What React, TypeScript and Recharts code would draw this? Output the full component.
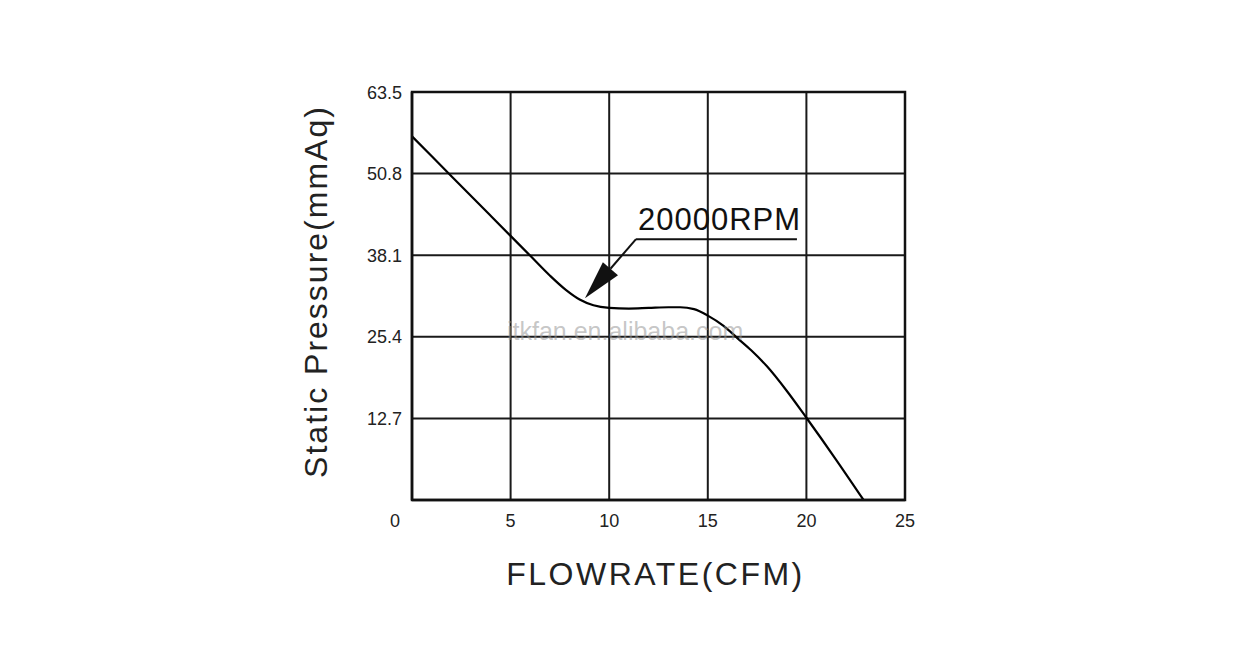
import React from 'react';
import { LineChart, Line, XAxis, YAxis, CartesianGrid, ReferenceLine, ReferenceArea } from 'recharts';

// flow (CFM) vs static pressure (mmAq)
const flowrate = [0, 2, 4, 6, 7, 7.8, 8.5, 9.2, 10, 11, 12, 13, 13.6, 14.3, 15, 15.8, 16.5, 17.2, 18, 19, 20, 21.5, 22.9];
const pressure = [56.6, 50.4, 44.2, 38.0, 34.9, 32.7, 31.2, 30.3, 29.9, 29.8, 29.9, 30.0, 30.0, 29.7, 28.7, 27.1, 25.2, 23.3, 20.8, 17.0, 12.8, 6.3, 0];

const xTicks = [0, 5, 10, 15, 20, 25];
const yTicks = [0, 12.7, 25.4, 38.1, 50.8, 63.5];

const curveLabel = '20000RPM';
const xTitle = 'FLOWRATE(CFM)';
const yTitle = 'Static Pressure(mmAq)';

// annotation anchors in data units
const labelStart = { x: 11.36, y: 40.6 };
const labelEnd = { x: 19.52, y: 40.6 };
const arrowTip = { x: 8.77, y: 31.4 };

const data = flowrate.map((f, i) => ({ flow: f, pressure: pressure[i] }));

const FONT = '"Liberation Sans", Arial, Helvetica, sans-serif';
const INK = '#111';

const XTick = (props: any) => {
  const { x, y, payload } = props;
  const dx = payload.value === 0 ? -17 : 0;
  return (
    <text x={x + dx} y={y + 19} textAnchor="middle" fontSize={18} fontFamily={FONT} fill="#222">
      {payload.value}
    </text>
  );
};

const YTick = (props: any) => {
  const { x, y, payload } = props;
  if (payload.value === 0) return null;
  return (
    <text x={x - 2} y={y + 6.5} textAnchor="end" fontSize={18} fontFamily={FONT} fill="#222">
      {payload.value.toFixed(1)}
    </text>
  );
};

const Underline = (p: any) => (
  <g>
    <line x1={p.x1} y1={p.y1} x2={p.x2} y2={p.y2} stroke={INK} strokeWidth={2} />
    <text x={p.x1 + 2} y={p.y1 - 9} fontSize={31} fontFamily={FONT} fill={INK} letterSpacing={1}>
      {curveLabel}
    </text>
  </g>
);

const Arrow = (p: any) => {
  // x1,y1 = start of leader, x2,y2 = tip
  const dx = p.x2 - p.x1;
  const dy = p.y2 - p.y1;
  const len = Math.sqrt(dx * dx + dy * dy) || 1;
  const ux = dx / len;
  const uy = dy / len;
  const headLen = 39;
  const half = 10;
  const bx = p.x2 - ux * headLen;
  const by = p.y2 - uy * headLen;
  const pts = `${p.x2},${p.y2} ${bx - uy * half},${by + ux * half} ${bx + uy * half},${by - ux * half}`;
  return (
    <g>
      <line x1={p.x1} y1={p.y1} x2={bx} y2={by} stroke={INK} strokeWidth={2} />
      <polygon points={pts} fill={INK} />
    </g>
  );
};

export default function App() {
  return (
    <div style={{ position: 'absolute', left: 0, top: 0, width: 1250, height: 660, background: '#fff' }}>
      <LineChart width={1250} height={660} data={data} margin={{ top: 92, right: 345, bottom: 100, left: 352 }}>
        <CartesianGrid stroke="#1a1a1a" strokeWidth={2} />
        <XAxis
          dataKey="flow"
          type="number"
          domain={[0, 25]}
          ticks={xTicks}
          tick={<XTick />}
          tickLine={false}
          axisLine={{ stroke: INK, strokeWidth: 2.5 }}
          height={60}
          allowDataOverflow
          label={{
            content: (props: any) => {
              const vb = props.viewBox;
              return (
                <text x={vb.x + vb.width / 2 - 3} y={585} textAnchor="middle" fontSize={32} fontFamily={FONT} fill="#222" letterSpacing={2.5}>
                  {xTitle}
                </text>
              );
            },
          }}
        />
        <YAxis
          type="number"
          domain={[0, 63.5]}
          ticks={yTicks}
          tick={<YTick />}
          tickLine={false}
          axisLine={{ stroke: INK, strokeWidth: 2.5 }}
          width={60}
          allowDataOverflow
          label={{
            content: (props: any) => {
              const vb = props.viewBox;
              const cy = vb.y + vb.height / 2 - 4.5;
              return (
                <text x={327} y={cy} transform={`rotate(-90, 327, ${cy})`} textAnchor="middle" fontSize={32} fontFamily={FONT} fill="#222" letterSpacing={2}>
                  {yTitle}
                </text>
              );
            },
          }}
        />
        <ReferenceArea x1={0} x2={25} y1={0} y2={63.5} fill="none" stroke={INK} strokeWidth={2.5} ifOverflow="visible" />
        <Line
          type="monotone"
          dataKey="pressure"
          stroke="#000"
          strokeWidth={2.2}
          dot={false}
          activeDot={false}
          isAnimationActive={false}
        />
        <ReferenceLine segment={[labelStart, labelEnd]} shape={<Underline />} ifOverflow="visible" />
        <ReferenceLine segment={[labelStart, arrowTip]} shape={<Arrow />} ifOverflow="visible" />
      </LineChart>
      <div
        style={{
          position: 'absolute',
          left: 507,
          top: 316,
          fontFamily: FONT,
          fontSize: 25,
          color: 'rgba(150,150,150,0.55)',
          pointerEvents: 'none',
          lineHeight: '30px',
        }}
      >
        itkfan.en.alibaba.com
      </div>
    </div>
  );
}
